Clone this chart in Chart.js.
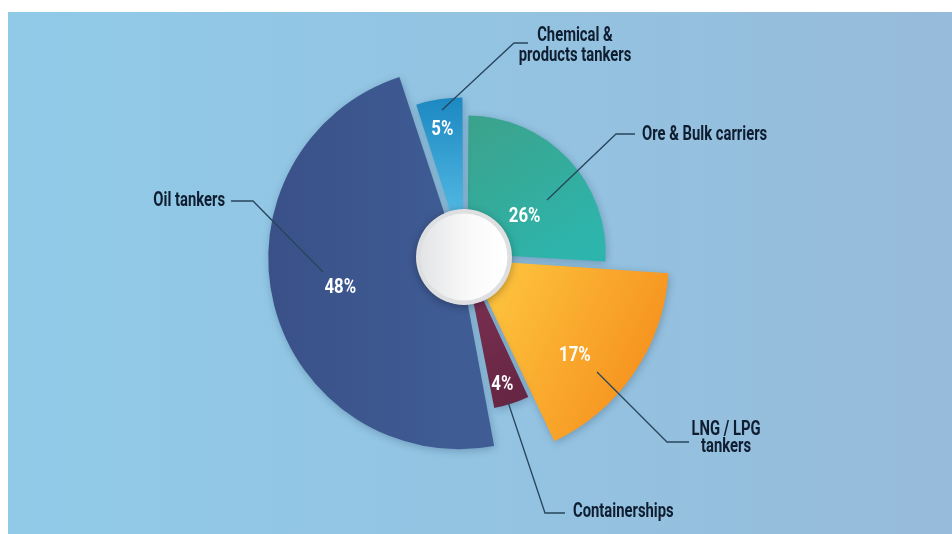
<!DOCTYPE html>
<html>
<head>
<meta charset="utf-8">
<title>World fleet by vessel type</title>
<script src="https://cdn.jsdelivr.net/npm/chart.js@4.4.1/dist/chart.umd.min.js"></script>
<style>
    html, body { margin: 0; padding: 0; background: #ffffff; }
    #wrap { width: 952px; height: 534px; }
</style>
</head>
<body>
<div id="wrap"><canvas id="fleetChart" width="952" height="534"></canvas></div>
<script>
// fleet share per vessel type, clockwise from 12 o'clock
var vesselTypes = ["Ore & Bulk carriers", "LNG / LPG tankers", "Containerships", "Oil tankers", "Chemical & products tankers"];
var fleetShare = [26, 17, 4, 48, 5];
// how far each wedge reaches out, 0-100
var wedgeReach = [60.5, 89, 65.5, 84.5, 68];

// inner / outer colour of every wedge
var wedgeColors = [
    ["#3ba38c", "#2db5ad"],
    ["#fdc13c", "#f58e1c"],
    ["#7a2f50", "#632442"],
    ["#3f5c95", "#3a5188"],
    ["#1a86c0", "#50b7e2"]
];

var SQUEEZE = 0.74;
var INK = "#0f1d30";
var LEADER = "#27455c";

// callouts, relative to the chart centre
var callouts = [
    { line: [[83, -57], [152, -123], [171, -123]], text: ["Ore & Bulk carriers"], x: 178, y: [-117], align: "left" },
    { line: [[133, 115], [203, 185], [225, 185]], text: ["LNG / LPG", "tankers"], x: 262, y: [178, 195], align: "center" },
    { line: [[44, 145], [81, 256], [101, 256]], text: ["Containerships"], x: 109, y: [260], align: "left" },
    { line: [[-141, 15], [-211, -56], [-233, -56]], text: ["Oil tankers"], x: -239, y: [-51], align: "right" },
    { line: [[-22, -147], [50, -214], [64, -214]], text: ["Chemical &", "products tankers"], x: 111, y: [-216, -196], align: "center" }
];
// where the percentage sits: degrees clockwise from top, distance from centre
var shareSpots = [[55, 74], [131, 147], [163, 131], [257, 127], [350.5, 131]];

function squeezedText(ctx, str, x, y, align, size, color, squeeze) {
    ctx.save();
    ctx.font = "bold " + size + "px Roboto, 'Liberation Sans', sans-serif";
    ctx.fillStyle = color;
    ctx.textBaseline = "alphabetic";
    ctx.textAlign = align;
    ctx.translate(x, y);
    ctx.scale(squeeze || SQUEEZE, 1);
    ctx.fillText(str, 0, 0);
    ctx.restore();
}

function wedgeFill(context) {
    var i = context.dataIndex;
    var chart = context.chart;
    var r = chart.scales.r;
    if (context.type !== "data" || !r || !isFinite(r.xCenter) || !isFinite(r.yCenter)) {
        return wedgeColors[i || 0][0];
    }
    var cx = r.xCenter, cy = r.yCenter;
    var g;
    if (i === 0) {
        g = chart.ctx.createLinearGradient(cx + 20, cy - 140, cx + 110, cy);
    } else if (i === 1) {
        g = chart.ctx.createLinearGradient(cx + 30, cy + 30, cx + 200, cy + 110);
    } else if (i === 2) {
        g = chart.ctx.createLinearGradient(cx, cy + 40, cx + 60, cy + 150);
    } else if (i === 3) {
        g = chart.ctx.createLinearGradient(cx, cy, cx - 190, cy);
    } else {
        g = chart.ctx.createLinearGradient(cx, cy - 160, cx, cy - 40);
    }
    g.addColorStop(0, wedgeColors[i][0]);
    g.addColorStop(1, wedgeColors[i][1]);
    return g;
}

var backdrop = {
    id: "backdrop",
    beforeDraw: function (chart) {
        var ctx = chart.ctx;
        ctx.save();
        ctx.fillStyle = "#ffffff";
        ctx.fillRect(0, 0, chart.width, chart.height);
        var g = ctx.createLinearGradient(8, 0, chart.width, 0);
        g.addColorStop(0, "#90cae7");
        g.addColorStop(0.5, "#93c4e2");
        g.addColorStop(1, "#97bbda");
        ctx.fillStyle = g;
        ctx.fillRect(8, 12, chart.width - 8, chart.height - 12);
        ctx.restore();
    }
};

var wedgeShadow = {
    id: "wedgeShadow",
    beforeDatasetsDraw: function (chart) {
        var ctx = chart.ctx;
        ctx.save();
        ctx.shadowColor = "rgba(20, 45, 80, 0.28)";
        ctx.shadowBlur = 8;
        ctx.shadowOffsetX = 1;
        ctx.shadowOffsetY = 2;
    },
    afterDatasetsDraw: function (chart) {
        chart.ctx.restore();
    }
};

var hubAndCallouts = {
    id: "hubAndCallouts",
    afterDatasetsDraw: function (chart) {
        var ctx = chart.ctx;
        var r = chart.scales.r;
        var cx = r.xCenter, cy = r.yCenter;

        // leader lines
        ctx.save();
        ctx.strokeStyle = LEADER;
        ctx.lineWidth = 1.3;
        callouts.forEach(function (c) {
            ctx.beginPath();
            c.line.forEach(function (p, k) {
                if (k === 0) ctx.moveTo(cx + p[0], cy + p[1]);
                else ctx.lineTo(cx + p[0], cy + p[1]);
            });
            ctx.stroke();
        });
        ctx.restore();

        // hub disc
        ctx.save();
        ctx.shadowColor = "rgba(0, 0, 0, 0.3)";
        ctx.shadowBlur = 8;
        ctx.shadowOffsetY = 2;
        ctx.beginPath();
        ctx.arc(cx, cy, 48, 0, Math.PI * 2);
        ctx.fillStyle = "#dedfe1";
        ctx.fill();
        ctx.restore();
        ctx.save();
        var g = ctx.createLinearGradient(cx - 42, cy, cx + 42, cy);
        g.addColorStop(0, "#e4e5e7");
        g.addColorStop(0.6, "#fafafa");
        g.addColorStop(1, "#ffffff");
        ctx.beginPath();
        ctx.arc(cx, cy, 43.5, 0, Math.PI * 2);
        ctx.fillStyle = g;
        ctx.fill();
        ctx.restore();

        // shares inside the wedges
        fleetShare.forEach(function (v, i) {
            var a = shareSpots[i][0] * Math.PI / 180;
            var d = shareSpots[i][1];
            var x = cx + d * Math.sin(a);
            var y = cy - d * Math.cos(a);
            squeezedText(ctx, v + "%", x, y + 7.5, "center", 21, "#ffffff", 0.8);
        });

        // names
        callouts.forEach(function (c) {
            c.text.forEach(function (t, k) {
                squeezedText(ctx, t, cx + c.x, cy + c.y[k], c.align, 20, INK);
            });
        });
    }
};

var canvas = document.getElementById("fleetChart");
new Chart(canvas, {
    type: "polarArea",
    data: {
        labels: vesselTypes,
        datasets: [{
            data: wedgeReach,
            angle: fleetShare.map(function (s) { return s * 3.6; }),
            backgroundColor: wedgeFill,
            borderWidth: 0,
            offset: 20
        }]
    },
    options: {
        responsive: false,
        animation: false,
        layout: {
            padding: { left: 244, right: 268, top: 37, bottom: 57 }
        },
        scales: {
            r: {
                display: false,
                min: 0,
                max: 100,
                startAngle: 0
            }
        },
        plugins: {
            legend: { display: false },
            tooltip: { enabled: false }
        }
    },
    plugins: [backdrop, wedgeShadow, hubAndCallouts]
});
</script>
</body>
</html>
